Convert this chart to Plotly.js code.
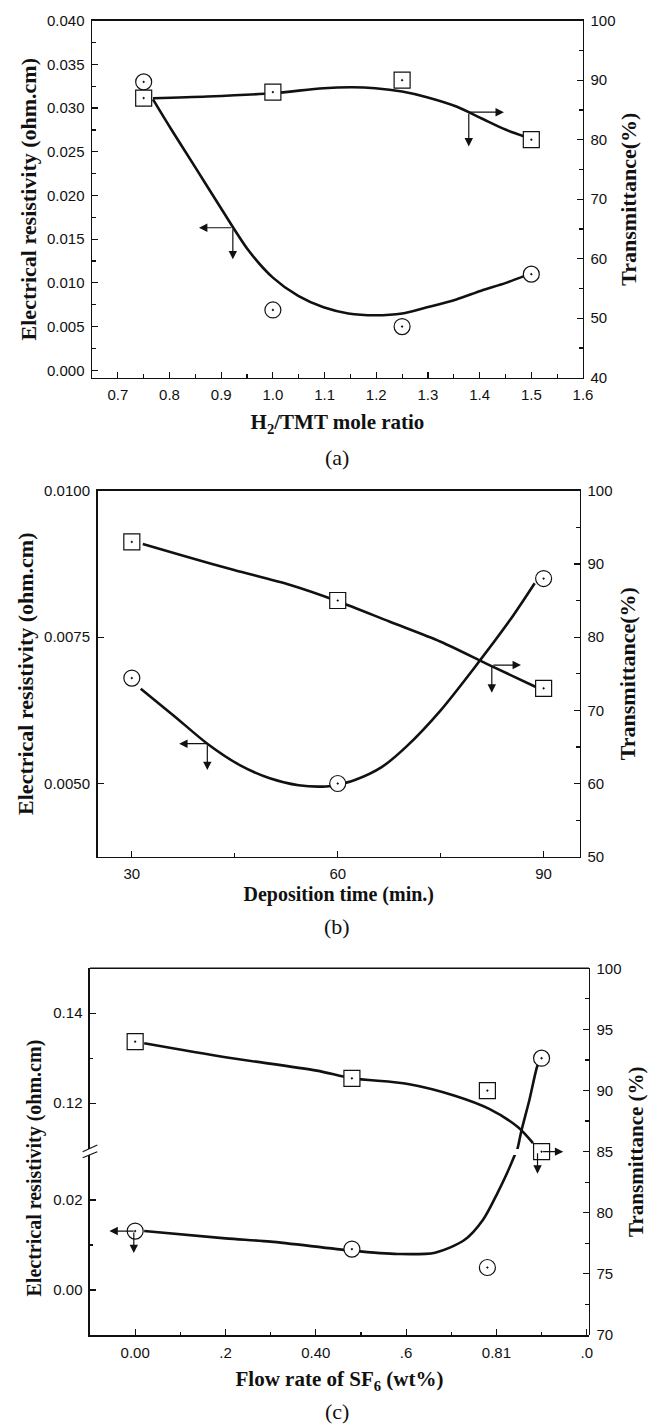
<!DOCTYPE html>
<html>
<head>
<meta charset="utf-8">
<script src="https://cdn.plot.ly/plotly-3.0.1.min.js"></script>
<style>html,body{margin:0;padding:0;background:#fff;}</style>
</head>
<body>
<div id="chart" style="width:650px;height:1427px;"></div>
<script>
// ---------- Panel (a): H2/TMT mole ratio ----------
const ratioA = [0.75, 1.0, 1.25, 1.5];
const resA = [0.0330, 0.0069, 0.0050, 0.0110];
const transA = [87.0, 88.0, 90.0, 80.0];
// fitted curves
const resFitAx = [0.768, 0.802, 0.849, 0.899, 0.953, 1.0, 1.049, 1.098, 1.146, 1.198, 1.25, 1.298, 1.355, 1.403, 1.451, 1.487];
const resFitAy = [0.0310, 0.0277, 0.0233, 0.0186, 0.0137, 0.0106, 0.0085, 0.0072, 0.0065, 0.0063, 0.0065, 0.0072, 0.0081, 0.0091, 0.0100, 0.0108];
const transFitAx = [0.768, 0.873, 1.0, 1.098, 1.154, 1.198, 1.25, 1.298, 1.355, 1.403, 1.451, 1.487];
const transFitAy = [86.97, 87.25, 87.81, 88.65, 88.81, 88.65, 88.09, 87.14, 85.57, 83.61, 81.66, 80.54];

// ---------- Panel (b): deposition time ----------
const timeB = [30, 60, 90];
const resB = [0.0068, 0.0050, 0.0085];
const transB = [93, 85, 73];
const resFitBx = [31.3, 36.2, 41.0, 45.8, 50.1, 54.3, 58.3, 60.0, 62.5, 66.4, 70.0, 75.0, 80.0, 85.1, 88.7];
const resFitBy = [0.00662, 0.00615, 0.00568, 0.00531, 0.00509, 0.00497, 0.00495, 0.00498, 0.00506, 0.00528, 0.00563, 0.00625, 0.00699, 0.00779, 0.00842];
const transFitBx = [31.6, 38.0, 44.9, 53.1, 60.0, 67.6, 75.0, 82.1, 88.8];
const transFitBy = [92.71, 90.98, 89.16, 87.11, 84.9, 82.1, 79.37, 76.18, 73.22];

// ---------- Panel (c): flow rate of SF6 ----------
const flowC = [0.0, 0.48, 0.78];
const resC = [0.0131, 0.0091, 0.0050];
const flowCHigh = [0.90];
const resCHigh = [0.130];
const flowCT = [0.0, 0.48, 0.78, 0.90];
const transC = [94, 91, 90, 85];
const resFitClowX = [0.02, 0.2, 0.3, 0.48, 0.581, 0.664, 0.729, 0.770, 0.802, 0.839, 0.848];
const resFitClowY = [0.0131, 0.01148, 0.01074, 0.00874, 0.0080, 0.0083, 0.0111, 0.01556, 0.02148, 0.0296, 0.0322];
const resFitChighX = [0.840, 0.848, 0.855, 0.873, 0.890, 0.898];
const resFitChighY = [0.1070, 0.1104, 0.1137, 0.1207, 0.1281, 0.1300];
const transFitCx = [0.02, 0.2, 0.402, 0.48, 0.604, 0.706, 0.784, 0.848, 0.881];
const transFitCy = [93.86, 92.72, 91.63, 91.0, 90.54, 89.6, 88.5, 87.0, 85.7];

const ticktextC = ['0.00', '.2', '0.40', '.6', '0.81', '.0'];
const tickvalsC = [0, 0.2, 0.4, 0.6, 0.8, 1.0];

// ---------- styling ----------
const INK = '#111';
const SERIF = 'Liberation Serif, Times New Roman, serif';
const tf = (size) => ({family: SERIF, size: size, color: INK, weight: 'bold'});
const tickFont = {family: 'Liberation Sans, Arial, sans-serif', size: 15, color: INK};
function ax(extra) {
  return Object.assign({
    showline: true, linecolor: INK, linewidth: 1.5,
    ticks: 'inside', ticklen: 6, tickwidth: 1.2, tickcolor: INK,
    showgrid: false, zeroline: false, tickfont: tickFont, ticklabelstandoff: 3
  }, extra);
}
function minor(extra) {
  return Object.assign({ticks: 'inside', ticklen: 3.5, tickwidth: 1.2, tickcolor: INK, showgrid: false}, extra);
}
const curve = (x, y, xa, ya) => ({x, y, xaxis: xa, yaxis: ya, mode: 'lines', type: 'scatter', hoverinfo: 'skip',
  line: {color: INK, width: 2.6, shape: 'spline', smoothing: 0.8}});
const pts = (x, y, xa, ya, sym) => ({x, y, xaxis: xa, yaxis: ya, mode: 'markers', type: 'scatter', cliponaxis: false,
  marker: {symbol: sym, size: 16, color: 'white', line: {color: INK, width: 1.2}}});

const data = [
  curve(resFitAx, resFitAy, 'x', 'y'),
  pts(ratioA, resA, 'x', 'y', 'circle-dot'),
  curve(transFitAx, transFitAy, 'x', 'y2'),
  pts(ratioA, transA, 'x', 'y2', 'square-dot'),

  curve(resFitBx, resFitBy, 'x2', 'y3'),
  pts(timeB, resB, 'x2', 'y3', 'circle-dot'),
  curve(transFitBx, transFitBy, 'x2', 'y4'),
  pts(timeB, transB, 'x2', 'y4', 'square-dot'),

  curve(resFitClowX, resFitClowY, 'x3', 'y5'),
  pts(flowC, resC, 'x3', 'y5', 'circle-dot'),
  curve(resFitChighX, resFitChighY, 'x3', 'y6'),
  pts(flowCHigh, resCHigh, 'x3', 'y6', 'circle-dot'),
  curve(transFitCx, transFitCy, 'x3', 'y7'),
  pts(flowCT, transC, 'x3', 'y7', 'square-dot')
];

function arrow(x, y, axv, ayv, xr, yr) {
  return {x, y, ax: axv, ay: ayv, xref: xr, yref: yr, axref: xr, ayref: yr, text: '',
    showarrow: true, arrowhead: 2, arrowsize: 1.4, arrowwidth: 1.2, arrowcolor: INK};
}
const panelFont = {family: SERIF, size: 22, color: INK};

const layout = {
  width: 650, height: 1427,
  margin: {l: 0, r: 0, t: 0, b: 0},
  paper_bgcolor: 'white', plot_bgcolor: 'rgba(0,0,0,0)',
  showlegend: false,
  font: tickFont,

  // (a)
  xaxis: ax({domain: [0.14154, 0.89692], anchor: 'y', range: [0.65, 1.6], tick0: 0.7, dtick: 0.1, tickformat: '.1f',
    mirror: true, minor: minor({dtick: 0.05, tick0: 0.65}),
    title: {text: 'H<sub>2</sub>/TMT mole ratio', font: tf(21), standoff: 12}}),
  yaxis: ax({domain: [0.73532, 0.98549], anchor: 'x', range: [-0.00085, 0.040], tick0: 0, dtick: 0.005, tickformat: '.3f',
    minor: minor({dtick: 0.0025, tick0: 0}),
    title: {text: 'Electrical resistivity (ohm.cm)', font: tf(22), standoff: 4}}),
  yaxis2: ax({overlaying: 'y', anchor: 'x', side: 'right', range: [40, 100], tick0: 40, dtick: 10,
    minor: minor({dtick: 5, tick0: 40}),
    title: {text: 'Transmittance(%)', font: tf(22), standoff: 6}}),

  // (b)
  xaxis2: ax({domain: [0.15, 0.8923], anchor: 'y3', range: [25, 95.3], tickvals: timeB,
    mirror: true, minor: minor({tickvals: [45, 75]}),
    title: {text: 'Deposition time (min.)', font: tf(20), standoff: 6}}),
  yaxis3: ax({domain: [0.39965, 0.65613], anchor: 'x2', range: [0.00375, 0.0100], tickvals: [0.005, 0.0075, 0.01], tickformat: '.4f',
    title: {text: 'Electrical resistivity (ohm.cm)', font: tf(22), standoff: 4}}),
  yaxis4: ax({overlaying: 'y3', anchor: 'x2', side: 'right', range: [50, 100], tick0: 50, dtick: 10,
    minor: minor({dtick: 5, tick0: 50}),
    title: {text: 'Transmittance(%)', font: tf(22), standoff: 8}}),

  // (c)
  xaxis3: ax({domain: [0.13846, 0.90615], anchor: 'y5', range: [-0.1, 1.005], tickvals: tickvalsC, ticktext: ticktextC,
    minor: minor({tickvals: [-0.1, 0.1, 0.3, 0.5, 0.7, 0.9]}),
    title: {text: 'Flow rate of SF<sub>6</sub> (wt%)', font: tf(21), standoff: 12}}),
  yaxis5: ax({domain: [0.06447, 0.19061], anchor: 'x3', range: [-0.01, 0.030], tickvals: [0, 0.02], tickformat: '.2f',
    minor: minor({tickvals: [-0.01, 0.01]})}),
  yaxis6: ax({domain: [0.19481, 0.32145], anchor: 'x3', range: [0.1098, 0.15], tickvals: [0.12, 0.14], tickformat: '.2f',
    minor: minor({tickvals: [0.11, 0.13]})}),
  yaxis7: ax({domain: [0.06447, 0.32145], anchor: 'x3', side: 'right', range: [70, 100], tick0: 70, dtick: 5,
    minor: minor({dtick: 2.5, tick0: 70}),
    title: {text: 'Transmittance (%)', font: tf(21), standoff: 8}}),

  shapes: [
    // top frame line of panel (c)
    {type: 'line', xref: 'paper', yref: 'paper', x0: 0.13846, x1: 0.90615, y0: 0.32145, y1: 0.32145, line: {color: INK, width: 1.5}},
    // axis-break marks on the left axis of panel (c)
    {type: 'line', xref: 'paper', yref: 'paper', x0: 0.1272, x1: 0.1497, y0: 0.19292, y1: 0.19762, line: {color: INK, width: 1.2}},
    {type: 'line', xref: 'paper', yref: 'paper', x0: 0.1272, x1: 0.1497, y0: 0.18871, y1: 0.19292, line: {color: INK, width: 1.2}}
  ],

  annotations: [
    // (a)
    arrow(0.857, 0.01631, 0.9225, 0.01631, 'x', 'y'),
    arrow(0.9225, 0.0127, 0.9225, 0.01631, 'x', 'y'),
    arrow(1.447, 84.62, 1.379, 84.62, 'x', 'y2'),
    arrow(1.379, 78.86, 1.379, 84.62, 'x', 'y2'),
    // (b)
    arrow(36.9, 0.00568, 41.0, 0.00568, 'x2', 'y3'),
    arrow(41.0, 0.00523, 41.0, 0.00568, 'x2', 'y3'),
    arrow(86.7, 76.18, 82.45, 76.18, 'x2', 'y4'),
    arrow(82.45, 72.4, 82.45, 76.18, 'x2', 'y4'),
    // (c)
    arrow(-0.057, 0.0131, 0.0, 0.0131, 'x3', 'y5'),
    arrow(-0.003, 0.0082, -0.003, 0.0131, 'x3', 'y5'),
    arrow(0.948, 85, 0.90, 85, 'x3', 'y7'),
    arrow(0.891, 83.2, 0.891, 85, 'x3', 'y7'),
    // left axis title of the broken axis in (c), spanning both segments
    {text: 'Electrical resistivity (ohm.cm)', xref: 'paper', yref: 'paper', x: 0.0538, y: 0.18185, textangle: -90,
     showarrow: false, xanchor: 'center', yanchor: 'middle', font: tf(20)},
    // panel labels
    {text: '(a)', xref: 'paper', yref: 'paper', x: 0.5185, y: 0.67905, showarrow: false, xanchor: 'center', yanchor: 'middle', font: panelFont},
    {text: '(b)', xref: 'paper', yref: 'paper', x: 0.5185, y: 0.35039, showarrow: false, xanchor: 'center', yanchor: 'middle', font: panelFont},
    {text: '(c)', xref: 'paper', yref: 'paper', x: 0.5185, y: 0.0005, showarrow: false, xanchor: 'center', yanchor: 'bottom', font: panelFont}
  ]
};

Plotly.newPlot('chart', data, layout, {staticPlot: true, displayModeBar: false});
</script>
</body>
</html>
